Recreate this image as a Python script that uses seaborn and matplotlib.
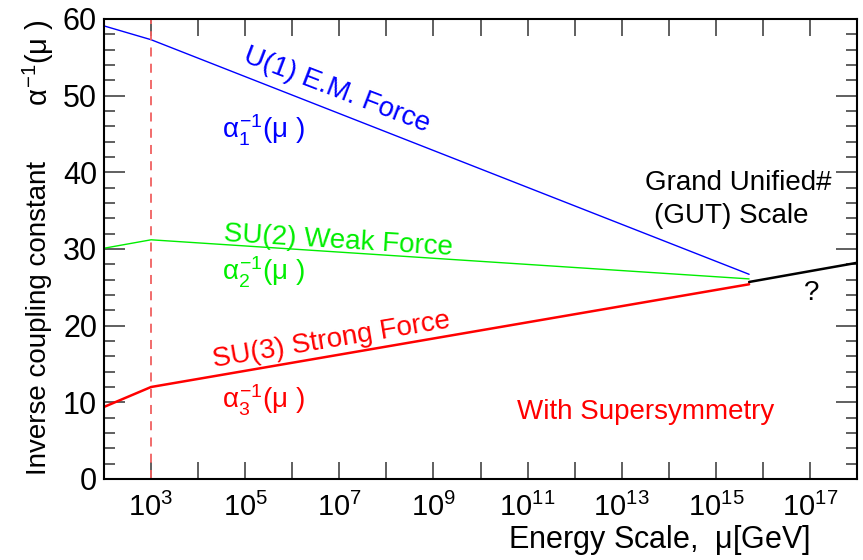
import numpy as np
import pandas as pd
import matplotlib
matplotlib.use("Agg")
import matplotlib.pyplot as plt
import seaborn as sns
from matplotlib.ticker import FixedLocator, MultipleLocator

# ---- data ----
mu_points = [1e2, 1e3, 5.1e15]          # energy scale [GeV]
alpha1_inv = [59.1, 57.3, 26.7]          # U(1)
alpha2_inv = [30.1, 31.2, 26.1]          # SU(2)
alpha3_inv = [9.4, 12.0, 25.4]           # SU(3)
gut_mu = [5.1e15, 1e18]
gut_inv = [25.7, 28.2]
susy_threshold = 1e3
x_tick_exps = list(range(2, 19))
x_label_exps = [3, 5, 7, 9, 11, 13, 15, 17]

sns.set_theme(style="white")
plt.rcParams['font.family'] = ['Liberation Sans', 'DejaVu Sans']
plt.rcParams['mathtext.fontset'] = 'custom'
plt.rcParams['mathtext.rm'] = 'Liberation Sans'
plt.rcParams['mathtext.it'] = 'Liberation Sans'
plt.rcParams['mathtext.bf'] = 'Liberation Sans:bold'
plt.rcParams['text.color'] = 'black'
plt.rcParams['xtick.labelcolor'] = 'black'
plt.rcParams['ytick.labelcolor'] = 'black'

fig = plt.figure(figsize=(8.63, 5.6), dpi=100)
ax = fig.add_axes([104/863, 81/560, 753/863, 460/560])

df = pd.DataFrame({
    'mu': mu_points * 3,
    'inv': alpha1_inv + alpha2_inv + alpha3_inv,
    'force': ['U1'] * 3 + ['SU2'] * 3 + ['SU3'] * 3,
})
sns.lineplot(data=df[df.force == 'U1'], x='mu', y='inv', color='#0000ff', lw=1.0, ax=ax)
sns.lineplot(data=df[df.force == 'SU2'], x='mu', y='inv', color='#00ee00', lw=1.0, ax=ax)
sns.lineplot(data=df[df.force == 'SU3'], x='mu', y='inv', color='#ff0000', lw=1.8, ax=ax)
sns.lineplot(x=gut_mu, y=gut_inv, color='black', lw=1.8, ax=ax)
ax.axvline(susy_threshold, color='#f06060', lw=1.3, ls=(0, (5, 4)))

ax.set_xscale('log')
ax.set_xlim(1e2, 1e18)
ax.set_ylim(0, 60)
ax.set_xlabel('')
ax.set_ylabel('')

ax.xaxis.set_major_locator(FixedLocator([10.0**e for e in x_tick_exps]))
ax.xaxis.set_minor_locator(FixedLocator([]))
ax.set_xticklabels([f'$10^{{{e}}}$' if e in x_label_exps else '' for e in x_tick_exps])
ax.yaxis.set_major_locator(MultipleLocator(10))
ax.yaxis.set_minor_locator(MultipleLocator(2))

ax.tick_params(axis='x', which='major', direction='in', length=12, width=1.2,
               color='#444444', top=True, bottom=True, labelsize=21, pad=10)
ax.tick_params(axis='y', which='major', direction='in', length=15, width=1.2,
               color='#444444', left=True, right=True, labelsize=22, pad=5)
ax.tick_params(axis='y', which='minor', direction='in', length=8, width=1.2,
               color='#444444', left=True, right=True)
for s in ax.spines.values():
    s.set_color('black')
    s.set_linewidth(1.5)

# annotations
ax.text(10**6.95, 50.7, 'U(1) E.M. Force', color='#0000ff', fontsize=20,
        rotation=-21, ha='center', va='center', rotation_mode='anchor')
ax.text(10**4.51, 45.5, r'$\alpha_1^{-1}(\mu\ )$', color='#0000ff', fontsize=20,
        ha='left', va='center')
ax.text(10**6.97, 31.0, 'SU(2) Weak Force', color='#00ee00', fontsize=20,
        rotation=-3.5, ha='center', va='center', rotation_mode='anchor')
ax.text(10**4.51, 27.0, r'$\alpha_2^{-1}(\mu\ )$', color='#00ee00', fontsize=20,
        ha='left', va='center')
ax.text(10**6.84, 18.1, 'SU(3) Strong Force', color='#ff0000', fontsize=20,
        rotation=9.5, ha='center', va='center', rotation_mode='anchor')
ax.text(10**4.51, 10.3, r'$\alpha_3^{-1}(\mu\ )$', color='#ff0000', fontsize=20,
        ha='left', va='center')
ax.text(10**13.5, 8.7, 'With Supersymmetry', color='#ff0000', fontsize=20,
        ha='center', va='center')
ax.text(10**15.47, 38.6, 'Grand Unified#', color='black', fontsize=20,
        ha='center', va='center')
ax.text(10**15.32, 34.3, '(GUT) Scale', color='black', fontsize=20,
        ha='center', va='center')
ax.text(10**17.04, 24.2, '?', color='black', fontsize=20, ha='center', va='center')

fig.text(0.045, 0.432, 'Inverse coupling constant', rotation=90, fontsize=20,
         ha='center', va='center')
fig.text(0.045, 0.889, r'$\alpha^{-1}(\mu\ )$', rotation=90, fontsize=21,
         ha='center', va='center')
fig.text(0.764, 0.022, r'Energy Scale,  $\mu$[GeV]', fontsize=22,
         ha='center', va='baseline')

fig.savefig('out.png', dpi=100)
